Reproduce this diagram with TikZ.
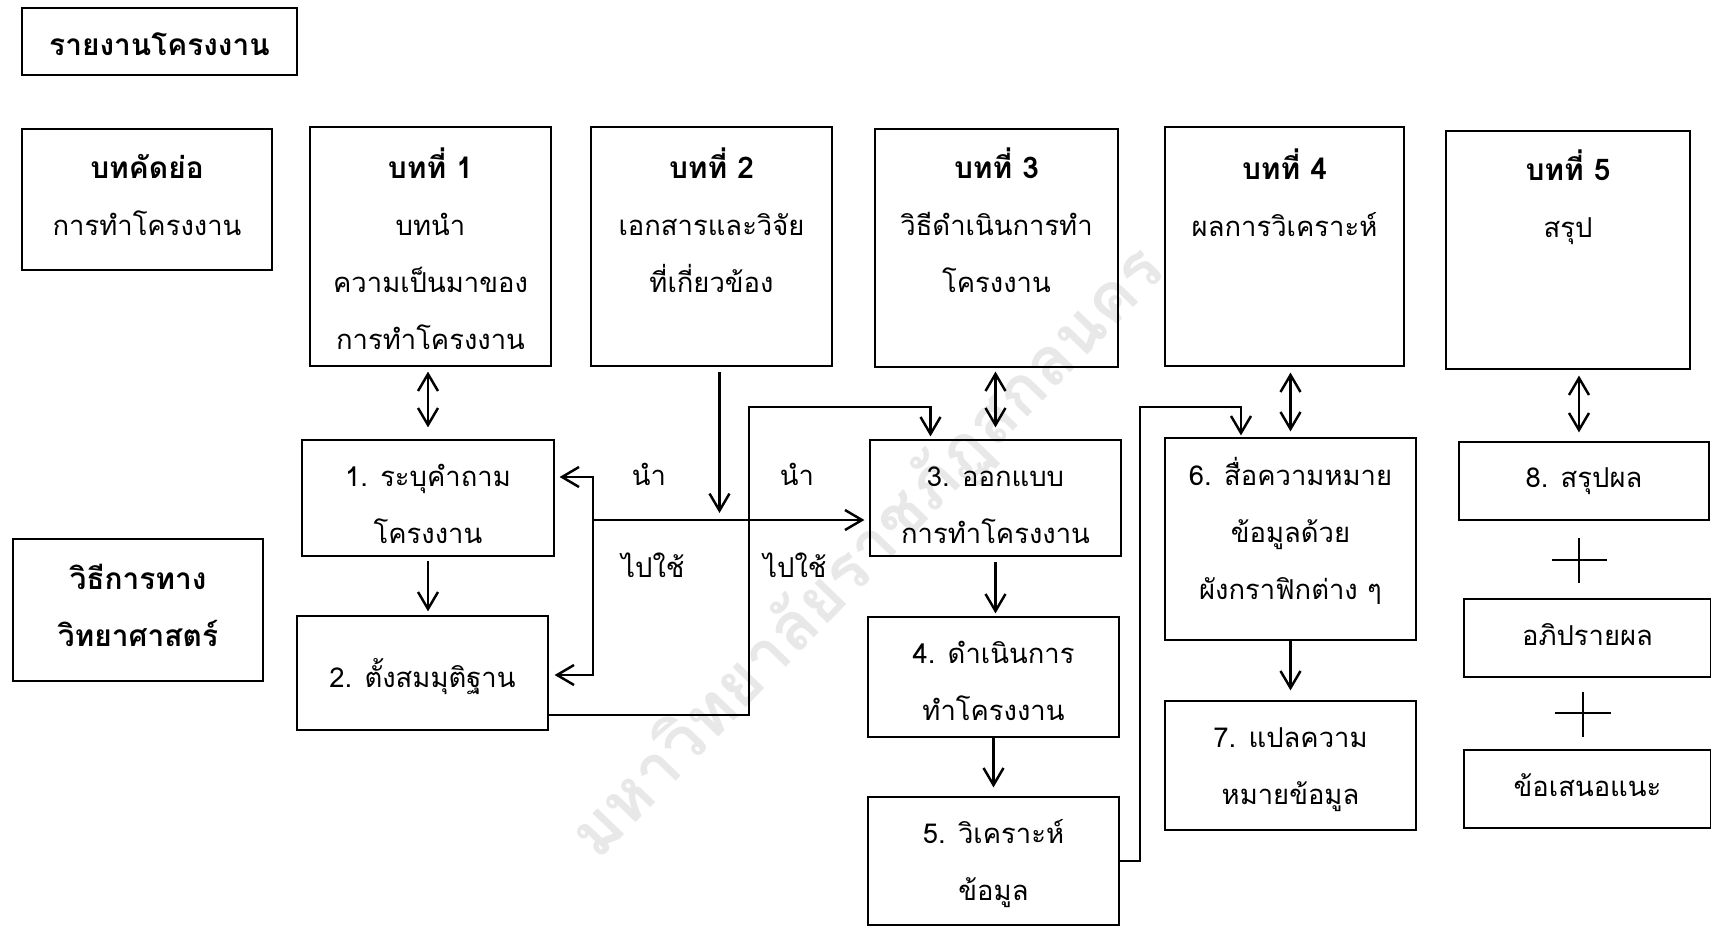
\documentclass[tikz,border=0pt]{standalone}
\usepackage{fontspec}
\newfontfamily\thaifont[Script=Thai]{Loma}
\usetikzlibrary{arrows.meta}
\newcommand{\chaphead}[1]{{\bfseries\fontsize{17}{32.4}\selectfont\strut #1}}

\begin{document}
\begin{tikzpicture}[x=0.02cm, y=-0.02cm, >={Straight Barb[length=0.34cm, width=0.4cm]}]
\tikzstyle{box} = [rectangle, draw=black, line width=0.7pt, inner sep=0pt]
\tikzstyle{txt} = [inner sep=0pt, font=\thaifont\fontsize{15.6}{32.4}\selectfont, align=center]
\tikzstyle{conn} = [draw=black, line width=1.4pt]
\tikzstyle{arr} = [conn, ->]
\tikzstyle{dbl} = [conn, <->]
\tikzstyle{plus} = [draw=black, line width=0.8pt]

\useasboundingbox (0,0) rectangle (1711,926);

% watermark
\node[txt, font=\thaifont\bfseries\fontsize{38}{40}\selectfont, text=gray!18, rotate=46] (mark) at (868,553) {มหาวิทยาลัยราชภัฏสกลนคร};

% chapters
\node[box, minimum width=5.5cm, minimum height=1.34cm] (title) at (159.5,41.5) {};
\node[box, minimum width=5cm, minimum height=2.82cm] (abs) at (147,199.5) {};
\node[box, minimum width=4.82cm, minimum height=4.78cm] (ch1) at (430.5,246.5) {};
\node[box, minimum width=4.82cm, minimum height=4.78cm] (ch2) at (711.5,246.5) {};
\node[box, minimum width=4.86cm, minimum height=4.76cm] (ch3) at (996.5,248) {};
\node[box, minimum width=4.78cm, minimum height=4.78cm] (ch4) at (1284.5,246.5) {};
\node[box, minimum width=4.88cm, minimum height=4.76cm] (ch5) at (1568,250) {};
\node[txt] (titlet) at (159.5,44.5) {\chaphead{รายงานโครงงาน}};
\node[txt] (abst) at (147,195.5) {\chaphead{บทคัดย่อ}\\\strut การทำโครงงาน};
\node[txt] (ch1t) at (430.5,252.5) {\chaphead{บทที่ 1}\\\strut บทนำ\\\strut ความเป็นมาของ\\\strut การทำโครงงาน};
\node[txt] (ch2t) at (711.5,224.5) {\chaphead{บทที่ 2}\\\strut เอกสารและวิจัย\\\strut ที่เกี่ยวข้อง};
\node[txt] (ch3t) at (996.5,224.5) {\chaphead{บทที่ 3}\\\strut วิธีดำเนินการทำ\\\strut โครงงาน};
\node[txt] (ch4t) at (1284.5,196.5) {\chaphead{บทที่ 4}\\\strut ผลการวิเคราะห์};
\node[txt] (ch5t) at (1568,198) {\chaphead{บทที่ 5}\\\strut สรุป};

% steps
\node[box, minimum width=5cm, minimum height=2.84cm] (sci) at (138,610) {};
\node[box, minimum width=5.04cm, minimum height=2.32cm] (q1) at (428,498) {};
\node[box, minimum width=5.02cm, minimum height=2.28cm] (hyp) at (422.5,673) {};
\node[box, minimum width=5.02cm, minimum height=2.32cm] (des) at (995.5,498) {};
\node[box, minimum width=5.02cm, minimum height=2.4cm] (exe) at (993.5,677) {};
\node[box, minimum width=5.02cm, minimum height=2.56cm] (ana) at (993.5,861) {};
\node[box, minimum width=5.02cm, minimum height=4.04cm] (com) at (1290.5,539) {};
\node[box, minimum width=5.02cm, minimum height=2.58cm] (int) at (1290.5,765.5) {};
\node[box, minimum width=5cm, minimum height=1.56cm] (sum) at (1584,481) {};
\node[box, minimum width=4.94cm, minimum height=1.56cm] (dis) at (1587.5,638) {};
\node[box, minimum width=4.94cm, minimum height=1.56cm] (rec) at (1587.5,789) {};
\node[txt] (scit) at (138,607) {\chaphead{วิธีการทาง}\\\chaphead{วิทยาศาสตร์}};
\node[txt] (q1t) at (428,503.5) {\strut 1. ระบุคำถาม\\\strut โครงงาน};
\node[txt] (hypt) at (422.5,676) {\strut 2. ตั้งสมมุติฐาน};
\node[txt] (dest) at (995.5,503.5) {\strut 3. ออกแบบ\\\strut การทำโครงงาน};
\node[txt] (exet) at (993.5,681) {\strut 4. ดำเนินการ\\\strut ทำโครงงาน};
\node[txt] (anat) at (993.5,861) {\strut 5. วิเคราะห์\\\strut ข้อมูล};
\node[txt] (comt) at (1290.5,531.5) {\strut 6. สื่อความหมาย\\\strut ข้อมูลด้วย\\\strut ผังกราฟิกต่าง ๆ};
\node[txt] (intt) at (1290.5,765) {\strut 7. แปลความ\\\strut หมายข้อมูล};
\node[txt] (sumt) at (1584,476.5) {\strut 8. สรุปผล};
\node[txt] (dist) at (1587.5,634.5) {\strut อภิปรายผล};
\node[txt] (rect) at (1587.5,785.5) {\strut ข้อเสนอแนะ};

\node[txt] (lead1) at (649,474) {นำ};
\node[txt] (use1) at (653,565) {ไปใช้};
\node[txt] (lead2) at (797,474) {นำ};
\node[txt] (use2) at (795,565) {ไปใช้};

% connectors
\coordinate (hub) at (593,520);
\draw[dbl, shorten <=0.1cm, shorten >=0.24cm] (q1.north |- ch1.south) -- (q1.north);
\draw[arr, shorten <=0.08cm, shorten >=0.08cm] (q1.south) -- (q1.south |- hyp.north);
\draw[arr, shorten >=0.1cm] (hub) |- ([shift={(0,-21)}]q1.east);
\draw[arr, shorten >=0.12cm] (hub) |- ([shift={(0,2)}]hyp.east);
\draw[arr, shorten >=0.1cm] (hub) -- (hub -| des.west);
\draw[arr, shorten <=0.1cm, shorten >=0.14cm] ([shift={(8,0)}]ch2.south) -- ([shift={(8,0)}]ch2.south |- hub);
\draw[arr, shorten >=0.06cm] ([shift={(0,42)}]hyp.east) -| (749,407) -| ([shift={(-65,0)}]des.north);
\draw[dbl, shorten <=0.08cm, shorten >=0.24cm] (des.north |- ch3.south) -- (des.north);
\draw[arr, shorten <=0.1cm, shorten >=0.06cm] (des.south) -- (des.south |- exe.north);
\draw[arr, shorten >=0.18cm] (exe.south) -- (exe.south |- ana.north);
\draw[arr, shorten >=0.04cm] (ana.east) -| (1140,407) -| ([shift={(-49.5,0)}]com.north);
\draw[dbl, shorten <=0.12cm, shorten >=0.12cm] (com.north |- ch4.south) -- (com.north);
\draw[arr, shorten >=0.2cm] (com.south) -- (com.south |- int.north);
\draw[dbl, shorten <=0.12cm, shorten >=0.18cm] ([shift={(-5,0)}]sum.north |- ch5.south) -- ([shift={(-5,0)}]sum.north);
\draw[plus] (1552,560) -- (1607,560) (1579,538) -- (1579,583);
\draw[plus] (1555,713) -- (1611,713) (1583,692) -- (1583,737);
\end{tikzpicture}
\end{document}
